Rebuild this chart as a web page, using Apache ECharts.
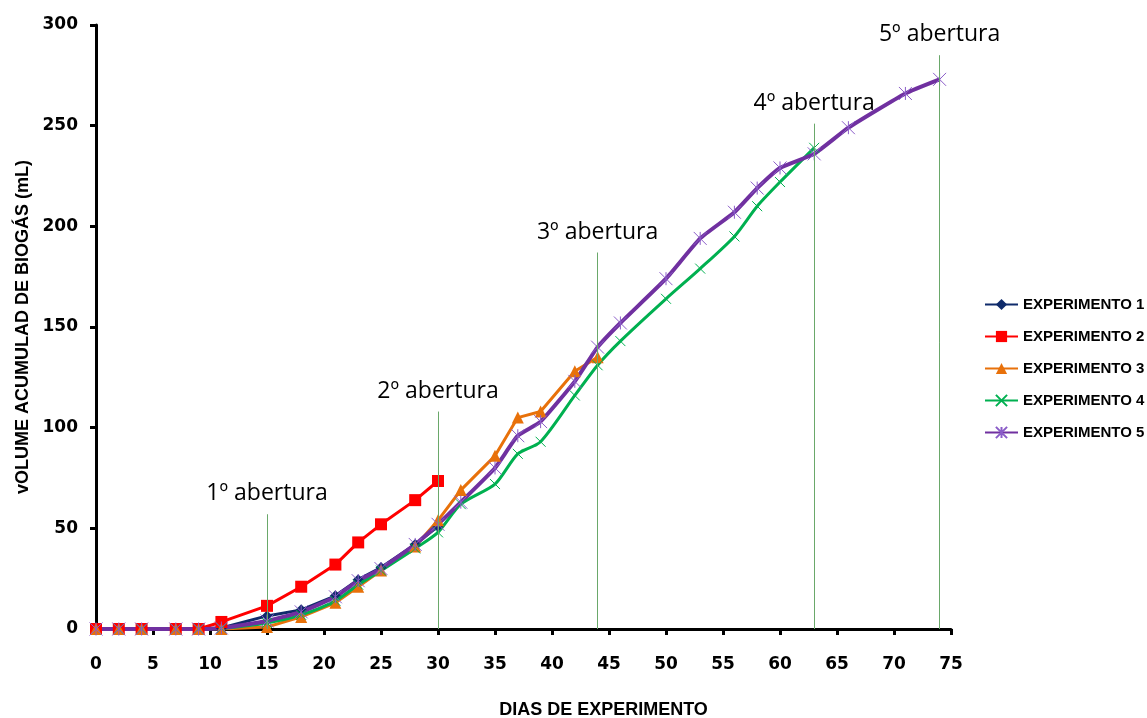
<!DOCTYPE html>
<html>
<head>
<meta charset="utf-8">
<title>Volume acumulado de biogás</title>
<script src="https://cdn.jsdelivr.net/npm/echarts@6/dist/echarts.min.js"></script>
<style>
    html, body { margin: 0; padding: 0; background: #fff; }
    #chart { width: 1147px; height: 718px; }
</style>
</head>
<body>
<div id="chart"></div>
<script>
    // dias de medição
    const daysLong = [0, 2, 4, 7, 9, 11, 15, 18, 21, 23, 25, 28, 30, 32, 35, 37, 39, 42, 44, 46, 50, 53, 56, 58, 60, 63, 66, 71, 74];

    // volume acumulado (mL) por experimento
    const exp1 = [0, 0, 0, 0, 0, 0.5, 6.5, 9.5, 16.5, 24.5, 30.5, 42, 51];
    const exp2 = [0, 0, 0, 0, 0, 3.5, 11.5, 21, 32, 43, 52, 64, 73.5];
    const exp3 = [0, 0, 0, 0, 0, 0, 1, 6, 13, 21, 29, 41, 54, 69, 86, 105, 108, 128, 135];
    const exp4 = [0, 0, 0, 0, 0, 0.3, 3, 7, 14, 22, 29, 40, 48, 62, 72, 87, 93, 116, 131, 143, 164, 179, 195, 210, 222, 239];
    const exp5 = [0, 0, 0, 0, 0, 0.5, 4, 8.5, 16, 24, 30, 42, 52, 63, 80, 96, 103, 123, 140, 152, 174, 194, 207, 219, 229, 236, 249, 266, 273];

    // aberturas (dia e altura da linha vertical)
    const aberturaNames = ['1º abertura', '2º abertura', '3º abertura', '4º abertura', '5º abertura'];
    const aberturaDays = [15, 30, 44, 63, 74];
    const aberturaTops = [57, 108, 187, 251, 285];

    const seriesNames = ['EXPERIMENTO 1', 'EXPERIMENTO 2', 'EXPERIMENTO 3', 'EXPERIMENTO 4', 'EXPERIMENTO 5'];

    function pairs(values) {
        return values.map((v, i) => [daysLong[i], v]);
    }

    const chart = echarts.init(document.getElementById('chart'));

    const boldTick = { fontFamily: 'DejaVu Sans', fontWeight: 'bold', fontSize: 17, color: '#000' };

    chart.setOption({
        animation: false,
        grid: { left: 96, right: 196, top: 25, bottom: 89, containLabel: false, outerBoundsMode: 'none' },
        legend: {
            orient: 'vertical',
            left: 979,
            top: 292,
            itemWidth: 33,
            itemHeight: 14,
            itemGap: 17,
            data: seriesNames,
            textStyle: { fontFamily: 'Liberation Sans', fontWeight: 'bold', fontSize: 15, color: '#000' }
        },
        xAxis: {
            type: 'value',
            min: 0, max: 75, interval: 5,
            name: 'DIAS DE EXPERIMENTO',
            nameLocation: 'middle',
            nameGap: 72,
            nameTextStyle: { fontFamily: 'Liberation Sans', fontWeight: 'bold', fontSize: 18, color: '#000', padding: [0, 0, 0, 160] },
            axisLine: { lineStyle: { color: '#000', width: 3 } },
            axisTick: { show: true, length: 6, lineStyle: { color: '#000', width: 3 } },
            axisLabel: Object.assign({ margin: 27 }, boldTick),
            splitLine: { show: false }
        },
        yAxis: {
            type: 'value',
            min: 0, max: 300, interval: 50,
            name: 'vOLUME ACUMULAD DE BIOGÁS (mL)',
            nameLocation: 'middle',
            nameGap: 62,
            nameTextStyle: { fontFamily: 'Liberation Sans', fontWeight: 'bold', fontSize: 18, color: '#000' },
            axisLine: { show: true, lineStyle: { color: '#000', width: 3 } },
            axisTick: { show: true, length: 6, lineStyle: { color: '#000', width: 3 } },
            axisLabel: Object.assign({ margin: 18 }, boldTick),
            splitLine: { show: false }
        },
        series: [
            {
                name: 'aberturas',
                type: 'line',
                data: [],
                silent: true,
                markLine: {
                    silent: true,
                    symbol: ['none', 'none'],
                    lineStyle: { color: '#6aa86a', width: 1, type: 'solid' },
                    label: {
                        show: true,
                        position: 'end',
                        distance: 9,
                        formatter: p => p.name,
                        fontFamily: 'Open Sans',
                        fontSize: 23,
                        color: '#000'
                    },
                    data: aberturaDays.map((d, i) => [
                        { name: aberturaNames[i], coord: [d, 0] },
                        { coord: [d, aberturaTops[i]] }
                    ])
                }
            },
            {
                name: seriesNames[0],
                type: 'line',
                data: pairs(exp1),
                symbol: 'diamond',
                symbolSize: 11,
                itemStyle: { color: '#0f2b6b' },
                lineStyle: { color: '#0f2b6b', width: 3 }
            },
            {
                name: seriesNames[1],
                type: 'line',
                data: pairs(exp2),
                symbol: 'rect',
                symbolSize: 12,
                itemStyle: { color: '#ff0000' },
                lineStyle: { color: '#ff0000', width: 3 }
            },
            {
                name: seriesNames[2],
                type: 'line',
                data: pairs(exp3),
                symbol: 'triangle',
                symbolSize: 12,
                itemStyle: { color: '#e8710a' },
                lineStyle: { color: '#e8710a', width: 3 }
            },
            {
                name: seriesNames[3],
                type: 'line',
                data: pairs(exp4),
                smooth: 0.25,
                symbol: 'path://M0,0L10,10M10,0L0,10',
                symbolSize: 10,
                itemStyle: { color: '#00b050', borderColor: '#00b050', borderWidth: 1 },
                lineStyle: { color: '#00b050', width: 3 }
            },
            {
                name: seriesNames[4],
                type: 'line',
                data: pairs(exp5),
                smooth: 0.15,
                symbol: 'path://M0,0L10,10M10,0L0,10M5,0L5,10',
                symbolSize: 13,
                itemStyle: { color: '#8a5cc8', borderColor: '#8a5cc8', borderWidth: 1 },
                lineStyle: { color: '#7030a0', width: 4 }
            }
        ]
    });
</script>
</body>
</html>
